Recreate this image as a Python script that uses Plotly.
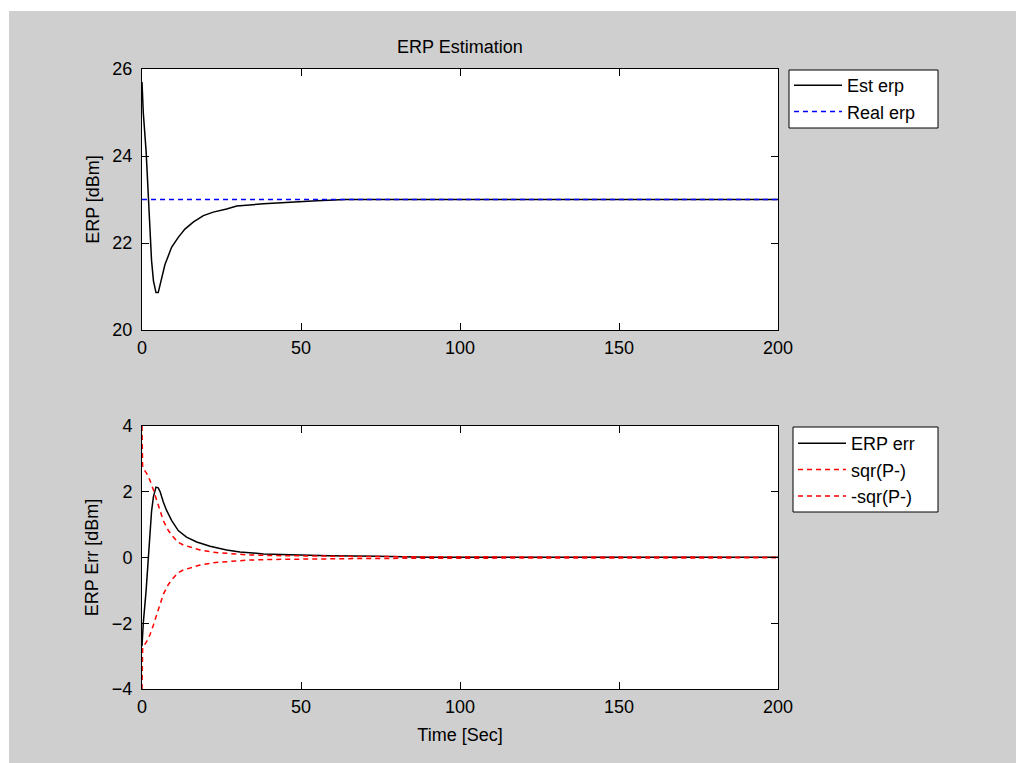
import plotly.graph_objects as go

# ---------------- data ----------------
t_est = [0, 0.4, 1.3, 1.8, 2.5, 3.0, 3.6, 4.4, 5.1, 6.2, 7.2, 9.3, 11.4, 13.5,
         16.1, 19.3, 22.4, 26.6, 29.8, 38.2, 46.5, 55, 64, 200]
est_erp = [25.7, 25.0, 24.1, 23.3, 22.4, 21.6, 21.13, 20.86, 20.86, 21.2, 21.5,
           21.9, 22.13, 22.32, 22.48, 22.63, 22.71, 22.78, 22.85, 22.9, 22.94,
           22.97, 23.0, 23.0]

t_real = [0, 200]
real_erp = [23, 23]

t_err = [0, 0.4, 1.3, 1.8, 2.5, 3.0, 3.6, 4.4, 5.1, 5.7, 6.7, 7.7, 9.3, 11.4,
         14.0, 17.2, 21.4, 26.6, 30.8, 38.2, 46.5, 59, 74, 90, 200]
erp_err = [-2.7, -2.0, -1.0, -0.2, 0.65, 1.4, 1.85, 2.14, 2.12, 2.0, 1.69, 1.44,
           1.13, 0.82, 0.62, 0.47, 0.34, 0.23, 0.17, 0.11, 0.08, 0.05, 0.04,
           0.01, 0.01]

t_p = [0, 0.2, 1.5, 2.5, 3.6, 4.6, 5.7, 6.7, 8.3, 9.5, 11.4, 13.0, 15.1, 18.2,
       22.4, 27.7, 32.9, 40, 50, 70, 100, 150, 200]
sqr_p = [4.0, 2.74, 2.55, 2.35, 2.05, 1.72, 1.42, 1.12, 0.82, 0.66, 0.46, 0.38,
         0.31, 0.23, 0.16, 0.11, 0.08, 0.06, 0.045, 0.03, 0.02, 0.015, 0.01]
neg_sqr_p = [-4.0, -2.74, -2.55, -2.35, -2.05, -1.72, -1.42, -1.12, -0.82, -0.66,
             -0.46, -0.38, -0.31, -0.23, -0.16, -0.11, -0.08, -0.06, -0.045,
             -0.03, -0.02, -0.015, -0.01]

x_ticks = [0, 50, 100, 150, 200]
y1_ticks = [20, 22, 24, 26]
y2_ticks = [-4, -2, 0, 2, 4]

title_text = "ERP Estimation"
y1_title = "ERP [dBm]"
y2_title = "ERP Err [dBm]"
x_title = "Time [Sec]"

# ---------------- styling ----------------
FONT = "Liberation Sans, Arial, sans-serif"
FS = 18
GRAY = "#cfcfcf"
DASH = "5px,4px"
LW = 1.5

W, H = 1016, 763
ML, MR, MT, MB = 142, 238, 69, 74
PW = W - ML - MR
PH = H - MT - MB


def px_x(p):
    return (p - ML) / PW


def px_y(p):
    return (H - MB - p) / PH


fig = go.Figure()

fig.add_trace(go.Scatter(x=t_est, y=est_erp, mode="lines", name="Est erp",
                         line=dict(color="black", width=LW),
                         xaxis="x", yaxis="y", legend="legend",
                         legendgroup="a"))
fig.add_trace(go.Scatter(x=t_real, y=real_erp, mode="lines", name="Real erp",
                         line=dict(color="#0000ff", width=LW, dash=DASH),
                         xaxis="x", yaxis="y", legend="legend",
                         legendgroup="b"))
fig.add_trace(go.Scatter(x=t_err, y=erp_err, mode="lines", name="ERP err",
                         line=dict(color="black", width=LW),
                         xaxis="x2", yaxis="y2", legend="legend2",
                         legendgroup="c"))
fig.add_trace(go.Scatter(x=t_p, y=sqr_p, mode="lines", name="sqr(P-)",
                         line=dict(color="#ff0000", width=LW, dash=DASH),
                         xaxis="x2", yaxis="y2", legend="legend2",
                         legendgroup="d"))
fig.add_trace(go.Scatter(x=t_p, y=neg_sqr_p, mode="lines", name="-sqr(P-)",
                         line=dict(color="#ff0000", width=LW, dash=DASH),
                         xaxis="x2", yaxis="y2", legend="legend2",
                         legendgroup="e"))

axis_common = dict(
    showline=True, linecolor="black", linewidth=1, mirror="ticks",
    ticks="inside", ticklen=7, tickwidth=1, tickcolor="black",
    showgrid=False, zeroline=False,
    tickfont=dict(family=FONT, size=FS, color="black"),
)

legend_common = dict(
    xanchor="left", yanchor="top", bgcolor="rgba(0,0,0,0)",
    borderwidth=0, font=dict(family=FONT, size=FS, color="black"),
    tracegroupgap=0, traceorder="grouped", itemwidth=48,
)

fig.update_layout(
    width=W, height=H,
    margin=dict(l=ML, r=MR, t=MT, b=MB, pad=0),
    paper_bgcolor="white", plot_bgcolor="white",
    font=dict(family=FONT, size=FS, color="black"),
    showlegend=True,
    xaxis=dict(domain=[0, 1], anchor="y", range=[0, 200], tickvals=x_ticks,
               ticklabelstandoff=1, **axis_common),
    yaxis=dict(domain=[px_y(330), 1], anchor="x", range=[20, 26],
               tickvals=y1_ticks, ticklabelstandoff=5,
               title=dict(text=y1_title, standoff=8,
                          font=dict(family=FONT, size=FS, color="black")),
               **axis_common),
    xaxis2=dict(domain=[0, 1], anchor="y2", range=[0, 200], tickvals=x_ticks,
                ticklabelstandoff=1,
                title=dict(text=x_title, standoff=12,
                           font=dict(family=FONT, size=FS, color="black")),
                **axis_common),
    yaxis2=dict(domain=[0, px_y(426)], anchor="x2", range=[-4, 4],
                tickvals=y2_ticks, ticklabelstandoff=5,
                title=dict(text=y2_title, standoff=8,
                           font=dict(family=FONT, size=FS, color="black")),
                **axis_common),
    legend=dict(x=px_x(789), y=px_y(67), **legend_common),
    legend2=dict(x=px_x(793), y=px_y(425), **legend_common),
    annotations=[dict(text=title_text, xref="paper", yref="paper",
                      x=0.5, y=px_y(47), xanchor="center", yanchor="middle",
                      showarrow=False,
                      font=dict(family=FONT, size=FS, color="black"))],
    shapes=[
        dict(type="rect", xref="paper", yref="paper", layer="below",
             x0=px_x(9), x1=px_x(W + 20), y0=px_y(H + 20), y1=px_y(11),
             fillcolor=GRAY, line=dict(width=0)),
        # legend boxes
        dict(type="rect", xref="paper", yref="paper", layer="below",
             x0=px_x(789), x1=px_x(938), y0=px_y(128), y1=px_y(70),
             fillcolor="white", line=dict(color="black", width=1)),
        dict(type="rect", xref="paper", yref="paper", layer="below",
             x0=px_x(793), x1=px_x(938), y0=px_y(512), y1=px_y(427),
             fillcolor="white", line=dict(color="black", width=1)),
        # plot area backgrounds
        dict(type="rect", xref="x domain", yref="y domain", layer="below",
             x0=0, x1=1, y0=0, y1=1, fillcolor="white", line=dict(width=0)),
        dict(type="rect", xref="x2 domain", yref="y2 domain", layer="below",
             x0=0, x1=1, y0=0, y1=1, fillcolor="white", line=dict(width=0)),
    ],
)

fig.write_html("out.html")
